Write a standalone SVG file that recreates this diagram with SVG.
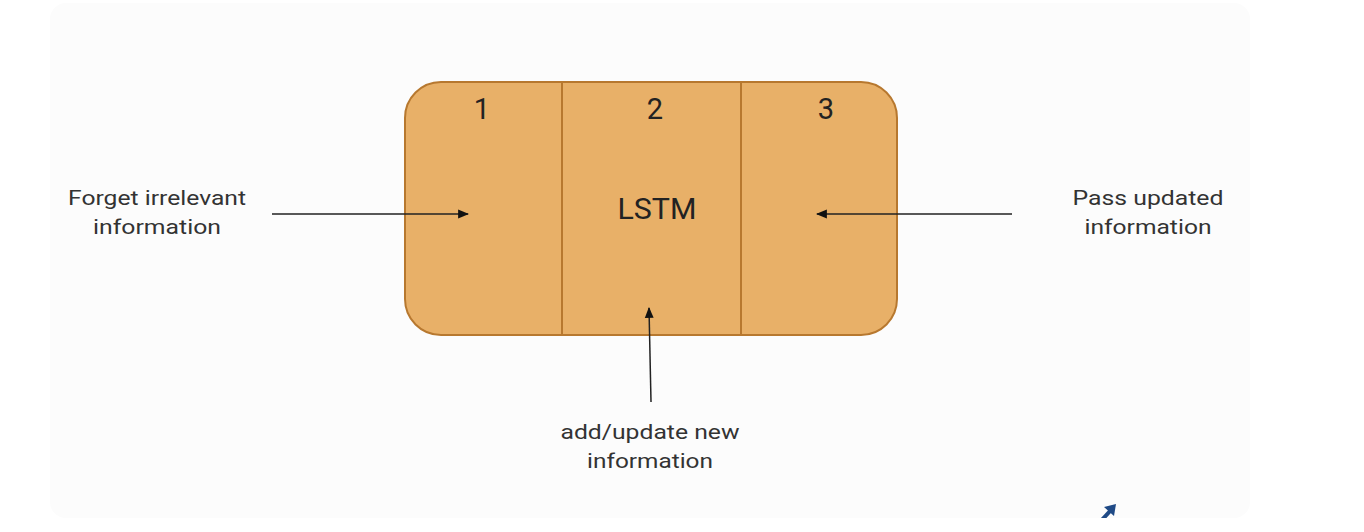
<svg xmlns="http://www.w3.org/2000/svg" width="1364" height="532" viewBox="0 0 1364 532">
<style>
.lbl{font-family:Roboto,"Liberation Sans",sans-serif;fill:#333;font-size:21px}
.num{font-family:Roboto,"Liberation Sans",sans-serif;fill:#222;font-size:29px}
.conn{stroke:#222;stroke-width:1.5;fill:none}
.cell{fill:#e8b068;stroke:#b7782f;stroke-width:2}
</style>
<defs>
<marker id="ah" viewBox="0 0 10 10" refX="9" refY="5" markerWidth="11" markerHeight="11" markerUnits="userSpaceOnUse" orient="auto">
<path d="M0,1 L10,5 L0,9 Z" fill="#111"/>
</marker>
<clipPath id="cut"><rect x="0" y="0" width="1364" height="518"/></clipPath>
</defs>
<rect x="0" y="0" width="1364" height="532" fill="#ffffff"/>
<rect x="50" y="3" width="1200" height="515" rx="16" fill="#fcfcfc"/>
<g id="lstm">
<rect class="cell" x="405" y="82" width="492" height="253" rx="36"/>
<line x1="562" y1="82" x2="562" y2="335" stroke="#b7782f" stroke-width="2"/>
<line x1="741" y1="82" x2="741" y2="335" stroke="#b7782f" stroke-width="2"/>
<text class="num" x="482" y="119" text-anchor="middle">1</text>
<text class="num" x="655" y="119" text-anchor="middle">2</text>
<text class="num" x="826" y="119" text-anchor="middle">3</text>
<text class="num" x="657" y="219" text-anchor="middle" font-size="25" textLength="79" lengthAdjust="spacingAndGlyphs">LSTM</text>
</g>
<g id="forget">
<text class="lbl" x="157" y="205" text-anchor="middle" textLength="178" lengthAdjust="spacingAndGlyphs">Forget irrelevant</text>
<text class="lbl" x="157" y="234" text-anchor="middle" textLength="128" lengthAdjust="spacingAndGlyphs">information</text>
</g>
<g id="pass">
<text class="lbl" x="1148" y="205" text-anchor="middle" textLength="151" lengthAdjust="spacingAndGlyphs">Pass updated</text>
<text class="lbl" x="1148" y="234" text-anchor="middle" textLength="127" lengthAdjust="spacingAndGlyphs">information</text>
</g>
<g id="add">
<text class="lbl" x="650" y="439" text-anchor="middle" textLength="179" lengthAdjust="spacingAndGlyphs">add/update new</text>
<text class="lbl" x="650" y="468" text-anchor="middle" textLength="126" lengthAdjust="spacingAndGlyphs">information</text>
</g>
<g id="connectors">
<line class="conn" x1="272" y1="214" x2="468" y2="214" marker-end="url(#ah)"/>
<line class="conn" x1="1012" y1="214" x2="817" y2="214" marker-end="url(#ah)"/>
<line class="conn" x1="651" y1="402" x2="649" y2="308" marker-end="url(#ah)"/>
</g>
<g id="icon" clip-path="url(#cut)">
<path d="M1100,522 L1112,509" stroke="#1f4a86" stroke-width="4" fill="none"/>
<path d="M1104,507 L1116,504 L1114,516 Z" fill="#1f4a86"/>
</g>
</svg>
